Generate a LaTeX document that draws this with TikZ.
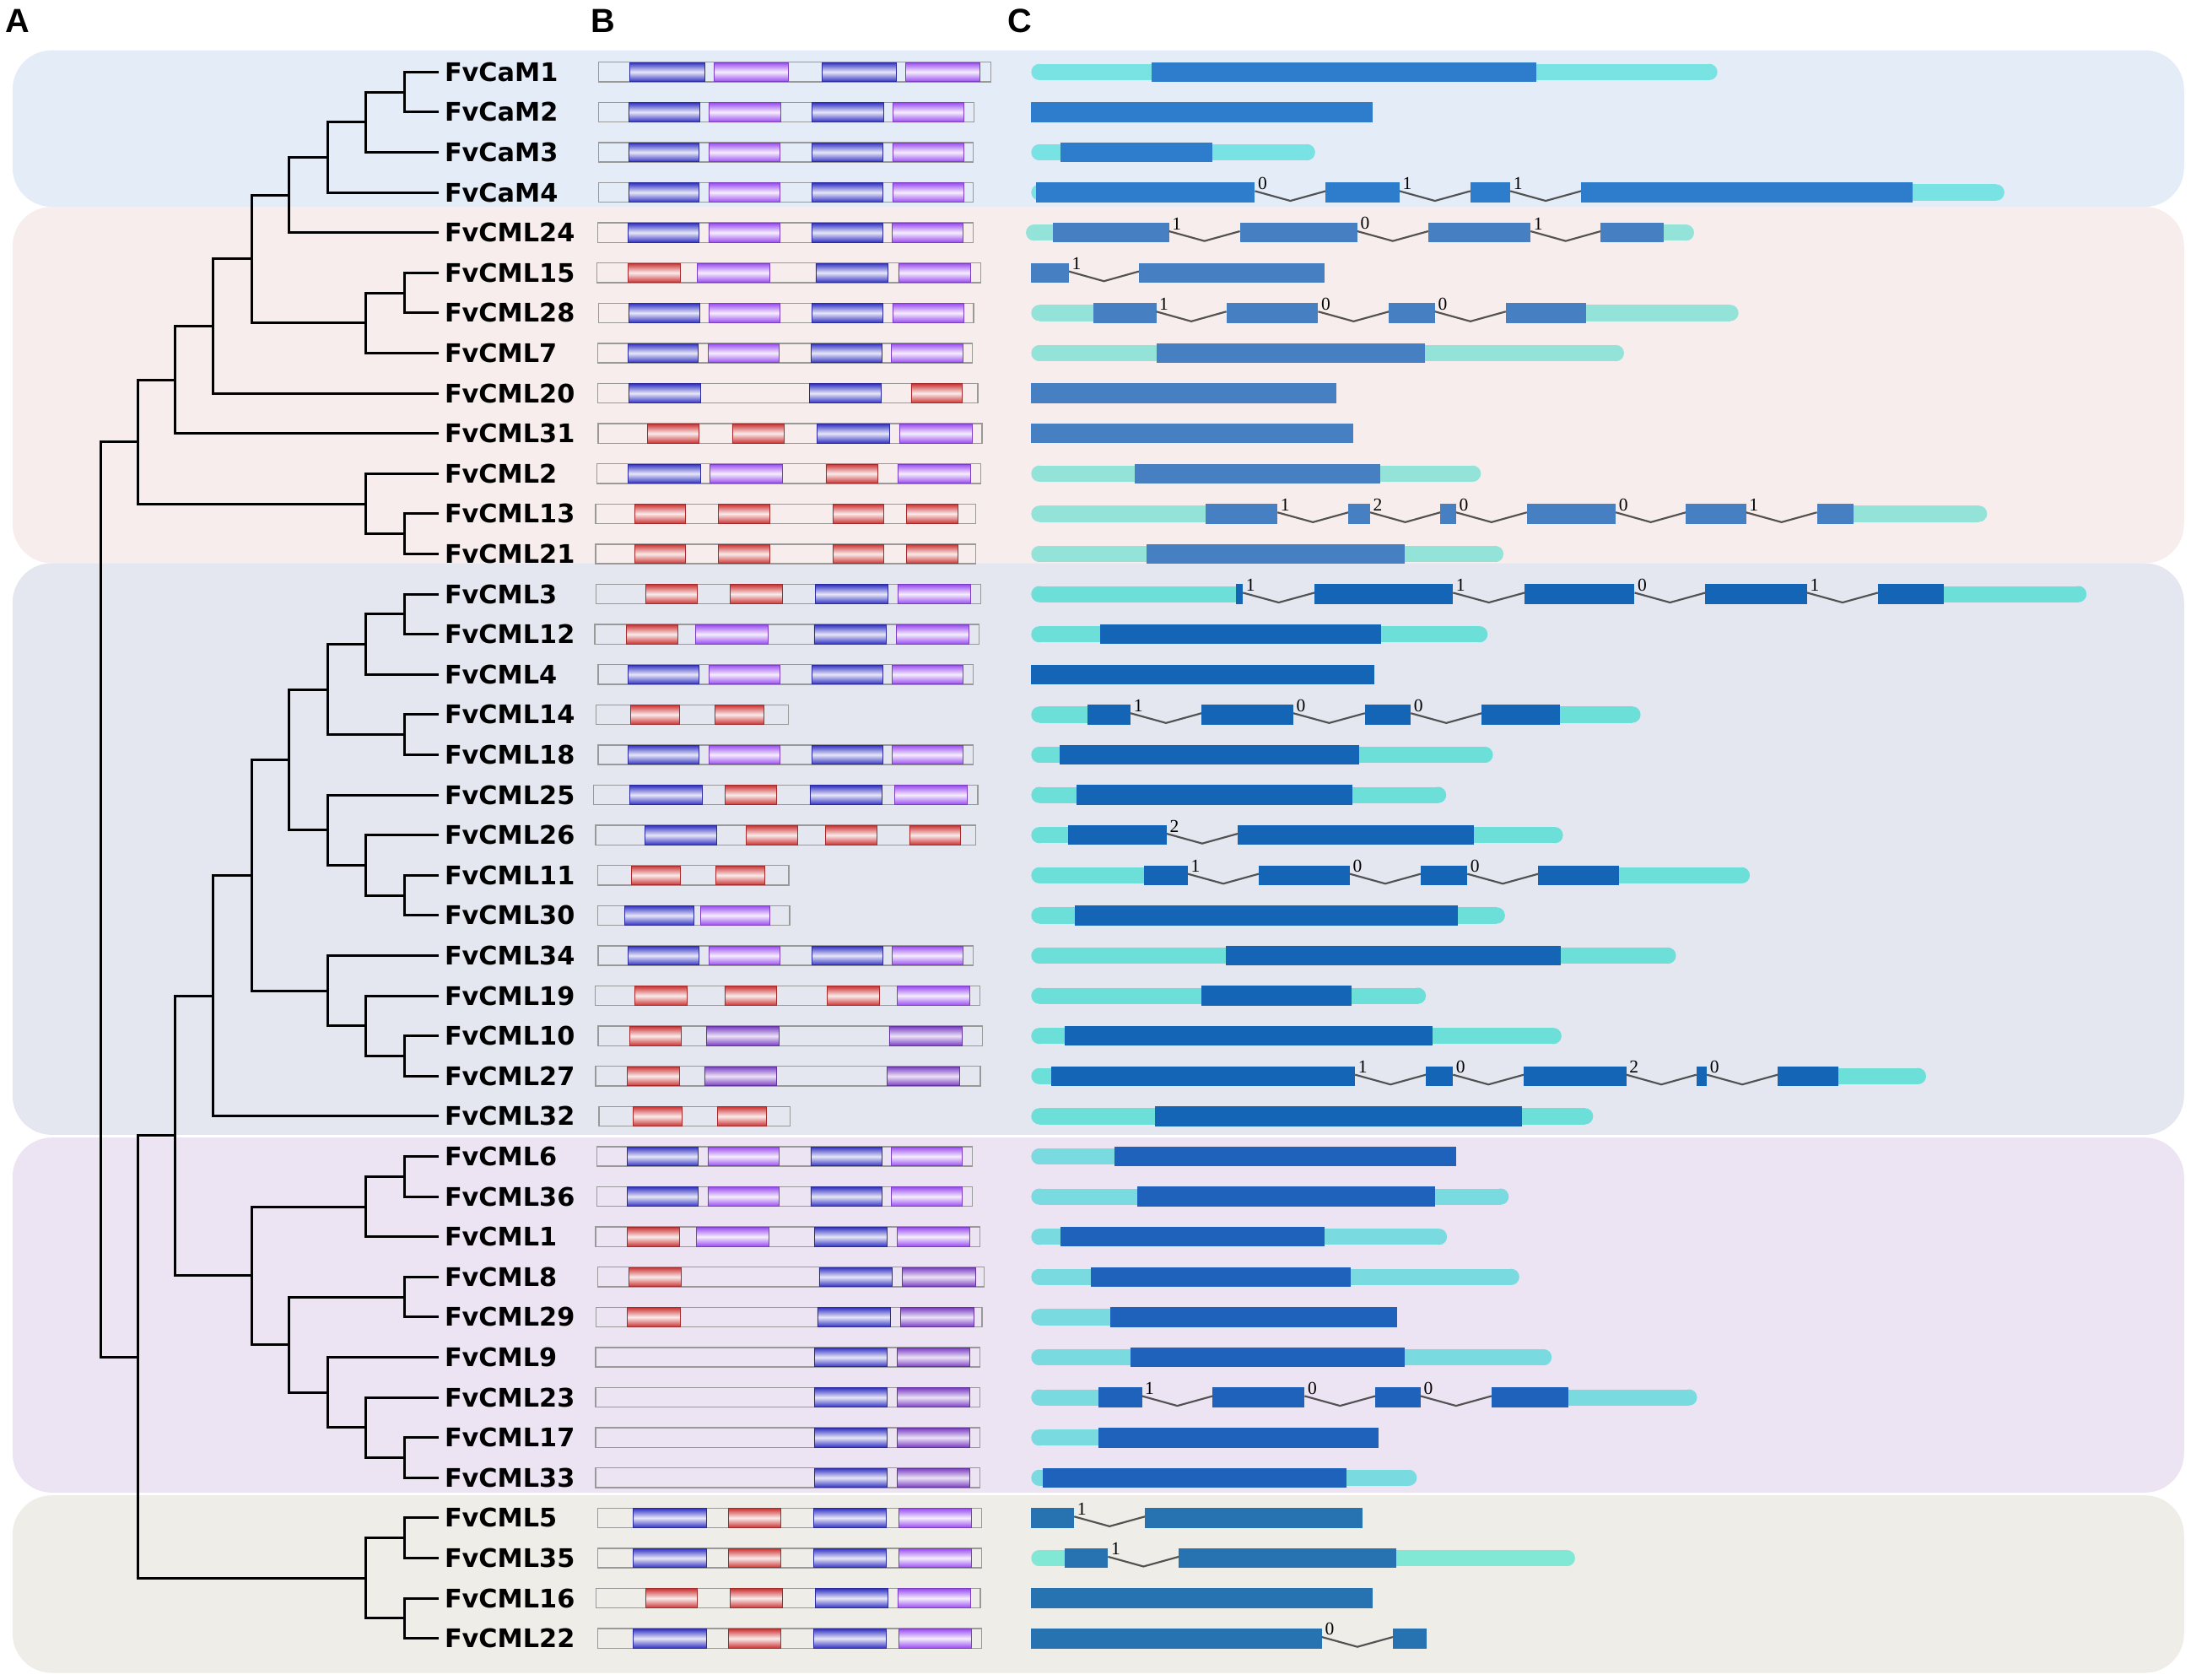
\documentclass[tikz,border=0pt]{standalone}
\usepackage{fontspec}
\newfontfamily\labfont{DejaVu Sans}
\newfontfamily\letterfont{Liberation Sans}
\newfontfamily\phasefont{Liberation Serif}

\definecolor{bgCaM}{HTML}{E4ECF8}
\definecolor{bgII}{HTML}{F7EDEC}
\definecolor{bgIII}{HTML}{E4E7F0}
\definecolor{bgIV}{HTML}{ECE4F3}
\definecolor{bgV}{HTML}{EEEDE7}
\definecolor{cds1}{HTML}{2E7DCC}
\definecolor{cds2}{HTML}{4680C2}
\definecolor{cds3}{HTML}{1565B7}
\definecolor{cds4}{HTML}{1F62BC}
\definecolor{cds5}{HTML}{2772B0}
\definecolor{utr1}{HTML}{79E3E3}
\definecolor{utr2}{HTML}{93E3D9}
\definecolor{utr3}{HTML}{6BDFD8}
\definecolor{utr4}{HTML}{79DADF}
\definecolor{utr5}{HTML}{80E8D5}
\definecolor{efblue}{HTML}{3434C4}
\definecolor{efpurple}{HTML}{9B4EF0}
\definecolor{efdark}{HTML}{7B3FC4}
\definecolor{efred}{HTML}{CC3636}

\tikzset{
  branch/.style = {line width = 1.8pt},
  leaf/.style = {anchor = west, inner sep = 0pt,
    font = \labfont\bfseries\fontsize{18.3}{20}\selectfont},
  panel/.style = {anchor = base west, inner sep = 0pt,
    font = \letterfont\bfseries\fontsize{24}{26}\selectfont},
  outline/.style = {draw = black!40, line width = .8pt},
  domB/.style = {top color = efblue, bottom color = efblue,
    middle color = efblue!12, draw = efblue!80!black, line width = .5pt},
  domP/.style = {top color = efpurple, bottom color = efpurple,
    middle color = efpurple!10, draw = efpurple!80!black, line width = .5pt},
  domD/.style = {top color = efdark, bottom color = efdark,
    middle color = efdark!15, draw = efdark!80!black, line width = .5pt},
  domR/.style = {top color = efred, bottom color = efred,
    middle color = efred!10, draw = efred!80!black, line width = .5pt},
  intron/.style = {draw = black!68, line width = 1.3pt},
  phase/.style = {anchor = south west, inner sep = 0pt, xshift = 2pt,
    font = \phasefont\fontsize{13}{13}\selectfont}
}

\newcommand{\rowy}[1]{51.5+28.74*(#1)}

\begin{document}
\begin{tikzpicture}[x = 1pt, y = -1pt]
  \useasboundingbox (0, 0) rectangle (1568, 1202);

  % group panels
  \fill[bgCaM, rounded corners = 28pt] (9, 36) rectangle (1563, 148);
  \fill[bgII, rounded corners = 28pt] (9, 148) rectangle (1563, 403);
  \fill[bgIII, rounded corners = 28pt] (9, 403) rectangle (1563, 812);
  \fill[bgIV, rounded corners = 28pt] (9, 814) rectangle (1563, 1068);
  \fill[bgV, rounded corners = 28pt] (9, 1070) rectangle (1563, 1197);

  \node[panel] (pA) at (4, 23) {A};
  \node[panel] (pB) at (423, 23) {B};
  \node[panel] (pC) at (721, 23) {C};

  % leaves
  \foreach \name [count = \i from 0] in {FvCaM1, FvCaM2, FvCaM3, FvCaM4,
    FvCML24, FvCML15, FvCML28, FvCML7, FvCML20, FvCML31, FvCML2, FvCML13,
    FvCML21, FvCML3, FvCML12, FvCML4, FvCML14, FvCML18, FvCML25, FvCML26,
    FvCML11, FvCML30, FvCML34, FvCML19, FvCML10, FvCML27, FvCML32, FvCML6,
    FvCML36, FvCML1, FvCML8, FvCML29, FvCML9, FvCML23, FvCML17, FvCML33,
    FvCML5, FvCML35, FvCML16, FvCML22} {
    \coordinate (t\i) at (314, {\rowy{\i}});
    \node[leaf] (lab\i) at (318, {\rowy{\i}}) {\name};
  }

  % inner nodes of the tree
  \coordinate (i1) at (289.5, {\rowy{0.5}});
  \coordinate (i2) at (262, {\rowy{1.25}});
  \coordinate (i3) at (234.5, {\rowy{2.125}});
  \coordinate (i4) at (207, {\rowy{3.0625}});
  \coordinate (i5) at (289.5, {\rowy{5.5}});
  \coordinate (i6) at (262, {\rowy{6.25}});
  \coordinate (i7) at (180, {\rowy{4.656}});
  \coordinate (i8) at (152.5, {\rowy{6.328}});
  \coordinate (i9) at (125.5, {\rowy{7.664}});
  \coordinate (i10) at (289.5, {\rowy{11.5}});
  \coordinate (i11) at (262, {\rowy{10.75}});
  \coordinate (i12) at (98.5, {\rowy{9.207}});
  \coordinate (j1) at (289.5, {\rowy{13.5}});
  \coordinate (j2) at (262, {\rowy{14.25}});
  \coordinate (j3) at (289.5, {\rowy{16.5}});
  \coordinate (j4) at (234.5, {\rowy{15.375}});
  \coordinate (j5) at (289.5, {\rowy{20.5}});
  \coordinate (j6) at (262, {\rowy{19.75}});
  \coordinate (j7) at (234.5, {\rowy{18.875}});
  \coordinate (j8) at (207, {\rowy{17.125}});
  \coordinate (j9) at (289.5, {\rowy{24.5}});
  \coordinate (j10) at (262, {\rowy{23.75}});
  \coordinate (j11) at (234.5, {\rowy{22.875}});
  \coordinate (j12) at (180, {\rowy{20}});
  \coordinate (j13) at (152.5, {\rowy{23}});
  \coordinate (k1) at (289.5, {\rowy{27.5}});
  \coordinate (k2) at (262, {\rowy{28.25}});
  \coordinate (k3) at (289.5, {\rowy{30.5}});
  \coordinate (k4) at (289.5, {\rowy{34.5}});
  \coordinate (k5) at (262, {\rowy{33.75}});
  \coordinate (k6) at (234.5, {\rowy{32.875}});
  \coordinate (k7) at (207, {\rowy{31.6875}});
  \coordinate (k8) at (180, {\rowy{29.97}});
  \coordinate (j14) at (125.5, {\rowy{26.48}});
  \coordinate (m1) at (289.5, {\rowy{36.5}});
  \coordinate (m2) at (289.5, {\rowy{38.5}});
  \coordinate (m3) at (262, {\rowy{37.5}});
  \coordinate (j15) at (98.5, {\rowy{31.99}});
  \coordinate (root) at (72, {\rowy{20.6}});

  \foreach \p/\c in {i1/t0, i1/t1, i2/i1, i2/t2, i3/i2, i3/t3, i4/i3, i4/t4,
    i5/t5, i5/t6, i6/i5, i6/t7, i7/i4, i7/i6, i8/i7, i8/t8, i9/i8, i9/t9,
    i10/t11, i10/t12, i11/t10, i11/i10, i12/i9, i12/i11,
    j1/t13, j1/t14, j2/j1, j2/t15, j3/t16, j3/t17, j4/j2, j4/j3,
    j5/t20, j5/t21, j6/t19, j6/j5, j7/t18, j7/j6, j8/j4, j8/j7,
    j9/t24, j9/t25, j10/t23, j10/j9, j11/t22, j11/j10, j12/j8, j12/j11,
    j13/j12, j13/t26, k1/t27, k1/t28, k2/k1, k2/t29, k3/t30, k3/t31,
    k4/t34, k4/t35, k5/t33, k5/k4, k6/t32, k6/k5, k7/k3, k7/k6,
    k8/k2, k8/k7, j14/j13, j14/k8, m1/t36, m1/t37, m2/t38, m2/t39,
    m3/m1, m3/m2, j15/j14, j15/m3, root/i12, root/j15}
    \draw[branch] (\p) |- (\c);

  % conserved motifs
  \begin{scope}[shift = {(416.6, 0)}, x = 0.20125pt]
    \foreach \ri/\lft/\rgt/\doms in {
      0/58/1453/{B/170/435,P/470/733,B/853/1116,P/1151/1415},
      1/58/1393/{B/165/418,P/452/705,B/818/1071,P/1105/1358},
      2/58/1390/{B/165/416,P/451/703,B/817/1069,P/1104/1356},
      3/58/1390/{B/165/416,P/451/703,B/817/1069,P/1104/1356},
      4/55/1390/{B/163/415,P/450/702,B/816/1068,P/1102/1355},
      5/53/1418/{R/163/348,P/410/668,B/831/1088,P/1125/1382},
      6/58/1392/{B/165/417,P/451/703,B/818/1070,P/1104/1356},
      7/55/1388/{B/162/413,P/448/700,B/815/1066,P/1100/1353},
      8/55/1407/{B/166/421,B/808/1063,R/1170/1352},
      9/57/1422/{R/232/416,R/534/718,B/835/1093,P/1128/1386},
      10/52/1417/{B/162/420,P/455/713,R/867/1051,P/1122/1380},
      11/48/1400/{R/186/368,R/485/666,R/892/1073,R/1154/1336},
      12/48/1400/{R/186/368,R/485/666,R/892/1073,R/1154/1336},
      13/50/1417/{R/225/410,R/527/712,B/829/1086,P/1122/1380},
      14/45/1412/{R/157/341,P/404/661,B/825/1082,P/1118/1375},
      15/57/1390/{B/164/416,P/451/703,B/817/1069,P/1103/1355},
      16/50/733/{R/173/345,R/473/645},
      17/57/1390/{B/164/416,P/451/703,B/817/1069,P/1103/1355},
      18/40/1407/{B/170/428,R/508/692,B/810/1067,P/1112/1370},
      19/48/1400/{B/222/477,R/584/767,R/865/1047,R/1164/1345},
      20/55/735/{R/175/348,R/475/648},
      21/55/738/{B/152/396,P/422/666},
      22/57/1390/{B/164/416,P/451/703,B/817/1069,P/1103/1355},
      23/47/1415/{R/186/372,R/507/691,R/872/1057,P/1120/1378},
      24/57/1423/{R/168/352,D/443/700,D/1092/1350},
      25/48/1416/{R/160/345,D/435/692,D/1084/1342},
      26/60/740/{R/181/354,R/481/654},
      27/52/1387/{B/160/412,P/447/699,B/813/1065,P/1099/1352},
      28/52/1387/{B/160/412,P/447/699,B/813/1065,P/1099/1352},
      29/48/1415/{R/159/345,P/406/664,B/827/1084,P/1121/1378},
      30/55/1430/{R/166/353,B/843/1102,D/1138/1398},
      31/50/1422/{R/161/348,B/837/1097,D/1133/1393},
      32/48/1415/{B/827/1084,D/1121/1378},
      33/48/1415/{B/827/1084,D/1121/1378},
      34/48/1415/{B/827/1084,D/1121/1378},
      35/48/1415/{B/827/1084,D/1121/1378},
      36/55/1420/{B/182/441,R/521/706,B/824/1080,P/1126/1383},
      37/55/1420/{B/182/441,R/521/706,B/824/1080,P/1126/1383},
      38/50/1416/{R/225/409,R/527/712,B/829/1086,P/1122/1380},
      39/55/1420/{B/182/441,R/521/706,B/824/1080,P/1126/1383}} {
      \draw[outline] (\lft, {\rowy{\ri}-7}) rectangle (\rgt, {\rowy{\ri}+7});
      \foreach \kind/\xa/\xb in \doms
        \shade[dom\kind] (\xa, {\rowy{\ri}-6.8}) rectangle (\xb, {\rowy{\ri}+6.8});
    }
  \end{scope}

  % gene structures
  \begin{scope}[shift = {(724.5, 0)}, x = 0.5391pt]
    \foreach \ri/\grp/\segs in {
      0/1/{L/25/185/-,C/185/696/-,R/696/936/-},
      1/1/{C/25/478/-},
      2/1/{L/25/64/-,C/64/265/-,R/265/402/-},
      3/1/{L/25/31/-,C/31/322/-,I/322/416/0,C/416/514/-,I/514/608/1,C/608/661/-,I/661/755/1,C/755/1195/-,R/1195/1317/-},
      4/2/{L/18/54/-,C/54/208/-,I/208/302/1,C/302/458/-,I/458/552/0,C/552/688/-,I/688/781/1,C/781/865/-,R/865/905/-},
      5/2/{C/25/75/-,I/75/168/1,C/168/414/-},
      6/2/{L/25/107/-,C/107/191/-,I/191/284/1,C/284/406/-,I/406/500/0,C/500/561/-,I/561/655/0,C/655/762/-,R/762/964/-},
      7/2/{L/25/191/-,C/191/548/-,R/548/812/-},
      8/2/{C/25/430/-},
      9/2/{C/25/453/-},
      10/2/{L/25/162/-,C/162/488/-,R/488/622/-},
      11/2/{L/25/256/-,C/256/352/-,I/352/446/1,C/446/475/-,I/475/568/2,C/568/589/-,I/589/683/0,C/683/801/-,I/801/894/0,C/894/974/-,I/974/1068/1,C/1068/1117/-,R/1117/1294/-},
      12/2/{L/25/178/-,C/178/521/-,R/521/652/-},
      13/3/{L/25/297/-,C/297/306/-,I/306/401/1,C/401/585/-,I/585/680/1,C/680/826/-,I/826/920/0,C/920/1055/-,I/1055/1149/1,C/1149/1236/-,R/1236/1426/-},
      14/3/{L/25/116/-,C/116/489/-,R/489/631/-},
      15/3/{C/25/481/-},
      16/3/{L/25/100/-,C/100/157/-,I/157/251/1,C/251/373/-,I/373/468/0,C/468/529/-,I/529/623/0,C/623/727/-,R/727/834/-},
      17/3/{L/25/63/-,C/63/460/-,R/460/638/-},
      18/3/{L/25/85/-,C/85/451/-,R/451/576/-},
      19/3/{L/25/74/-,C/74/205/-,I/205/299/2,C/299/613/-,R/613/731/-},
      20/3/{L/25/175/-,C/175/233/-,I/233/327/1,C/327/448/-,I/448/542/0,C/542/604/-,I/604/698/0,C/698/805/-,R/805/979/-},
      21/3/{L/25/83/-,C/83/591/-,R/591/654/-},
      22/3/{L/25/283/-,C/283/728/-,R/728/881/-},
      23/3/{L/25/251/-,C/251/450/-,R/450/549/-},
      24/3/{L/25/69/-,C/69/558/-,R/558/729/-},
      25/3/{L/25/51/-,C/51/455/-,I/455/549/1,C/549/585/-,I/585/679/0,C/679/815/-,I/815/908/2,C/908/922/-,I/922/1016/0,C/1016/1097/-,R/1097/1213/-},
      26/3/{L/25/189/-,C/189/676/-,R/676/771/-},
      27/4/{L/25/135/-,C/135/589/-},
      28/4/{L/25/166/-,C/166/561/-,R/561/659/-},
      29/4/{L/25/64/-,C/64/414/-,R/414/577/-},
      30/4/{L/25/104/-,C/104/449/-,R/449/673/-},
      31/4/{L/25/130/-,C/130/511/-},
      32/4/{L/25/157/-,C/157/521/-,R/521/716/-},
      33/4/{L/25/114/-,C/114/172/-,I/172/266/1,C/266/388/-,I/388/482/0,C/482/542/-,I/542/636/0,C/636/738/-,R/738/909/-},
      34/4/{L/25/114/-,C/114/486/-},
      35/4/{L/25/40/-,C/40/443/-,R/443/537/-},
      36/5/{C/25/82/-,I/82/176/1,C/176/465/-},
      37/5/{L/25/69/-,C/69/127/-,I/127/221/1,C/221/510/-,R/510/747/-},
      38/5/{C/25/478/-},
      39/5/{C/25/411/-,I/411/505/0,C/505/550/-}} {
      \foreach \kind/\xa/\xb/\ph in \segs {
        \if L\kind
          \fill[fill = utr\grp] (\xa+10.8, {\rowy{\ri}}) circle[radius = 5.8pt];
          \fill[fill = utr\grp] (\xa+10.8, {\rowy{\ri}-5.8}) rectangle (\xb, {\rowy{\ri}+5.8});
        \fi
        \if R\kind
          \fill[fill = utr\grp] (\xb-10.8, {\rowy{\ri}}) circle[radius = 5.8pt];
          \fill[fill = utr\grp] (\xa, {\rowy{\ri}-5.8}) rectangle (\xb-10.8, {\rowy{\ri}+5.8});
        \fi
        \if C\kind
          \fill[fill = cds\grp] (\xa, {\rowy{\ri}-7.1}) rectangle (\xb, {\rowy{\ri}+7.1});
        \fi
        \if I\kind
          \draw[intron] (\xa, {\rowy{\ri}-1}) -- ({(\xa+\xb)/2}, {\rowy{\ri}+6}) -- (\xb, {\rowy{\ri}-1});
          \node[phase] (ph\ri-\xa) at (\xa, {\rowy{\ri}-2}) {\ph};
        \fi
      }
    }
  \end{scope}
\end{tikzpicture}
\end{document}
